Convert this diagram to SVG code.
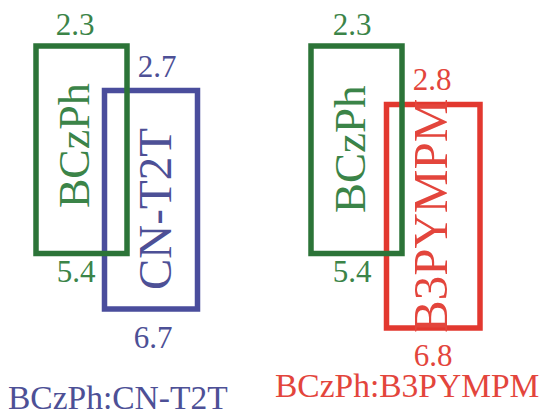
<svg xmlns="http://www.w3.org/2000/svg" width="539" height="415" viewBox="0 0 539 415">
  <style>
    text { font-family: "Liberation Serif", "Times New Roman", "DejaVu Serif", serif; }
    .box { fill: none; stroke-width: 5.5; }
    .g { fill: #3b8448; }
    .b { fill: #4d5096; }
    .r { fill: #e3453c; }
    .gs { stroke: #2c7438; }
    .bs { stroke: #4a4d9c; }
    .rs { stroke: #e2382f; }
    .num { font-size: 31px; text-anchor: middle; }
    .cap { font-size: 33.5px; }
  </style>
  <rect width="539" height="415" fill="#ffffff"/>

  <!-- left pair: BCzPh with CN-T2T -->
  <g id="cnt2t">
    <rect class="box bs" x="104.5" y="90.5" width="93" height="218.5"/>
    <text class="b" font-size="47" transform="translate(171,290) rotate(-90)">CN-T2T</text>
    <text class="num b" x="157" y="77">2.7</text>
    <text class="num b" x="153" y="348">6.7</text>
  </g>
  <g id="bczph-left">
    <rect class="box gs" x="36" y="46" width="91" height="207.5"/>
    <text class="g" font-size="44" transform="translate(89,208) rotate(-90)">BCzPh</text>
    <text class="num g" x="75" y="35">2.3</text>
    <text class="num g" x="76" y="282">5.4</text>
  </g>
  <text id="label-left" class="cap b" x="8" y="409">BCzPh:CN-T2T</text>

  <!-- right pair: BCzPh with B3PYMPM -->
  <g id="b3pympm">
    <rect class="box rs" x="386.5" y="104.5" width="93.5" height="223.5"/>
    <text class="r" font-size="49" transform="translate(447,333) rotate(-90)">B3PYMPM</text>
    <text class="num r" x="432" y="90">2.8</text>
    <text class="num r" x="433" y="366">6.8</text>
  </g>
  <g id="bczph-right">
    <rect class="box gs" x="311" y="46" width="91" height="207.5"/>
    <text class="g" font-size="45" transform="translate(365,213) rotate(-90)">BCzPh</text>
    <text class="num g" x="352" y="35">2.3</text>
    <text class="num g" x="352" y="282">5.4</text>
  </g>
  <text id="label-right" class="cap r" x="275" y="397">BCzPh:B3PYMPM</text>
</svg>
